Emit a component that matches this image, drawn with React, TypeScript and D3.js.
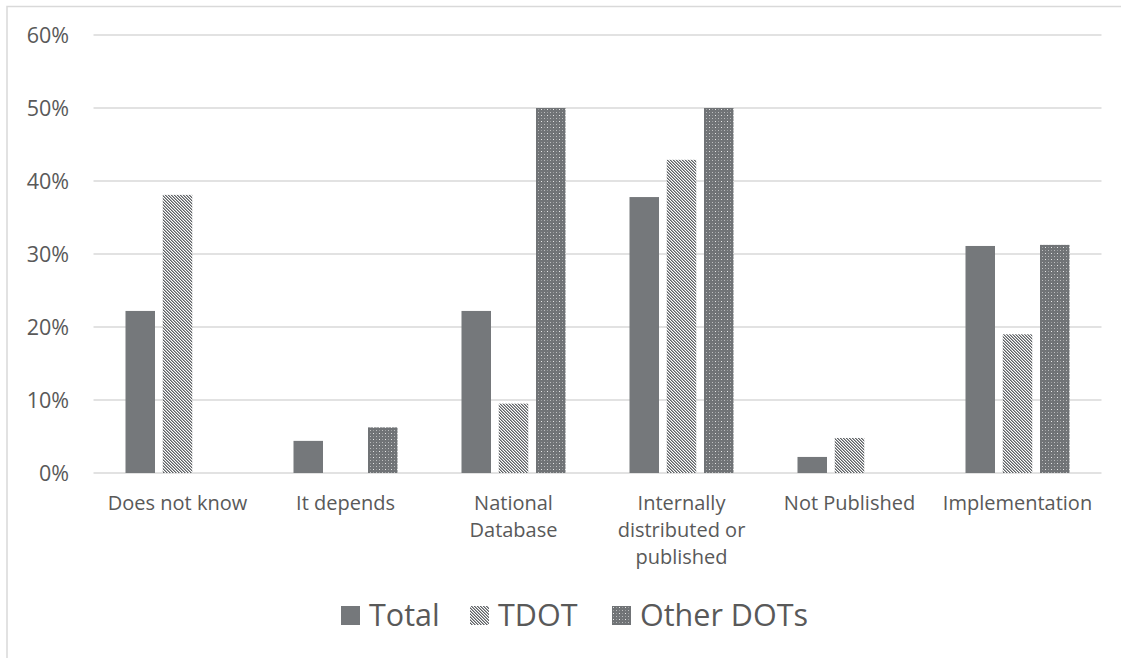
import React from "react";
import * as d3 from "d3";

const categories = [
  ["Does not know"],
  ["It depends"],
  ["National", "Database"],
  ["Internally", "distributed or", "published"],
  ["Not Published"],
  ["Implementation"],
];
const seriesNames = ["Total", "TDOT", "Other DOTs"];
const totalValues = [22.2, 4.4, 22.2, 37.8, 2.2, 31.1];
const tdotValues = [38.1, 0, 9.5, 42.9, 4.8, 19.0];
const otherValues = [0, 6.25, 50, 50, 0, 31.25];
const yTicks = [0, 10, 20, 30, 40, 50, 60];

const W = 1121;
const H = 658;
const font = "'Open Sans', 'Noto Sans', sans-serif";

export default function App() {
  const left = 93.5, right = 1101.5, top = 35, bottom = 473;
  const x = d3.scaleBand<number>().domain(d3.range(categories.length)).range([left, right]).paddingInner(0).paddingOuter(0);
  const inner = d3.scaleBand<number>().domain([0, 1, 2]).range([32, x.bandwidth() - 32]).paddingInner(0.208).paddingOuter(0);
  const y = d3.scaleLinear().domain([0, 60]).range([bottom, top]);
  const series = [totalValues, tdotValues, otherValues];
  const fills = ["#75787b", "url(#stripes)", "url(#dots)"];
  const fmt = (v: number) => `${v}%`;

  return (
    <svg width={W} height={H} style={{ position: "absolute", left: 0, top: 0, background: "#fff" }}>
      <defs>
        <pattern id="stripes" width="3" height="3" patternUnits="userSpaceOnUse">
          <rect width="3" height="3" fill="#ffffff" />
          <rect x="0" y="0" width="1" height="1" fill="#5f6265" />
          <rect x="1" y="1" width="1" height="1" fill="#5f6265" />
          <rect x="2" y="2" width="1" height="1" fill="#5f6265" />
          <rect x="1" y="0" width="1" height="1" fill="#a4a6a8" />
          <rect x="2" y="1" width="1" height="1" fill="#a4a6a8" />
          <rect x="0" y="2" width="1" height="1" fill="#a4a6a8" />
        </pattern>
        <pattern id="dots" width="6" height="6" patternUnits="userSpaceOnUse">
          <rect width="6" height="6" fill="#707376" />
          <rect x="1" y="1" width="1" height="1" fill="#e8e8e8" />
          <rect x="4" y="4" width="1" height="1" fill="#bfc0c1" />
          <rect x="4" y="1" width="1" height="1" fill="#9a9c9e" />
          <rect x="1" y="4" width="1" height="1" fill="#9a9c9e" />
        </pattern>
      </defs>
      <rect x={7} y={6.5} width={W + 10} height={H + 10} fill="#fff" stroke="#d9d9d9" strokeWidth={1.5} />
      {yTicks.map((t) => (
        <g key={t}>
          <line x1={left} x2={right} y1={y(t)} y2={y(t)} stroke="#d9d9d9" strokeWidth={1.5} />
          <text x={69} y={y(t)} dy="0.35em" textAnchor="end" fontFamily={font} fontSize={21.5} fill="#595959">
            {fmt(t)}
          </text>
        </g>
      ))}
      {categories.map((c, i) => (
        <g key={i}>
          {series.map((vals, s) =>
            vals[i] > 0 ? (
              <rect
                key={s}
                x={(x(i) as number) + (inner(s) as number)}
                y={y(vals[i])}
                width={inner.bandwidth()}
                height={y(0) - y(vals[i])}
                fill={fills[s]}
              />
            ) : null
          )}
          {c.map((line, k) => (
            <text
              key={k}
              x={(x(i) as number) + x.bandwidth() / 2}
              y={510 + k * 27}
              textAnchor="middle"
              fontFamily={font}
              fontSize={20}
              fill="#595959"
            >
              {line}
            </text>
          ))}
        </g>
      ))}
      {[
        { name: seriesNames[0], sx: 341, fill: fills[0] },
        { name: seriesNames[1], sx: 470, fill: fills[1] },
        { name: seriesNames[2], sx: 612, fill: fills[2] },
      ].map((l) => (
        <g key={l.name}>
          <rect x={l.sx} y={606} width={19} height={19} fill={l.fill} />
          <text x={l.sx + 28} y={615} dy="0.35em" fontFamily={font} fontSize={30.5} fill="#595959">
            {l.name}
          </text>
        </g>
      ))}
    </svg>
  );
}
